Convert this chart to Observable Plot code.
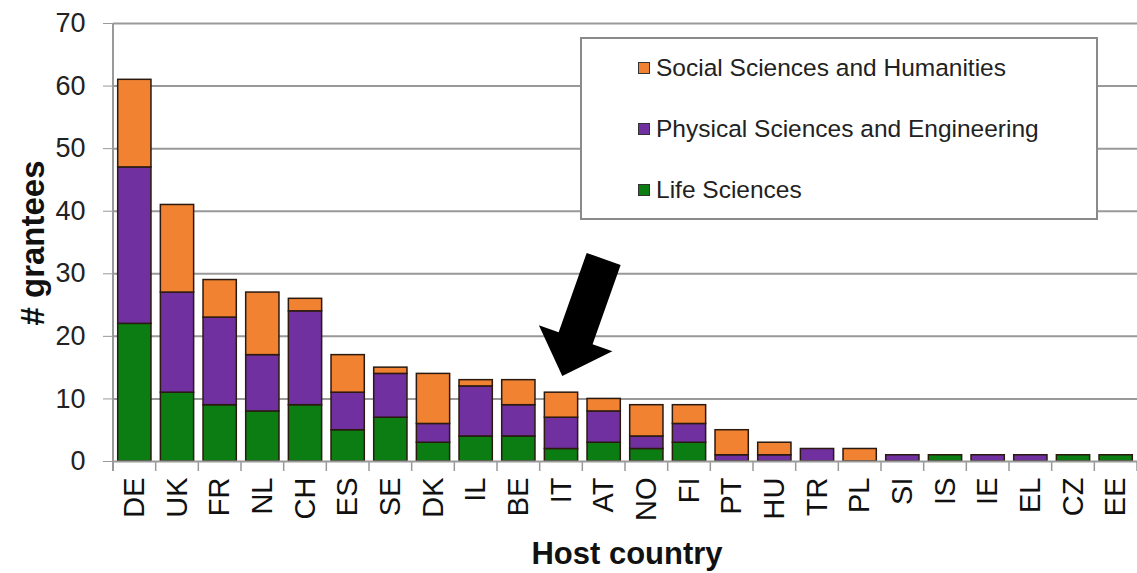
<!DOCTYPE html>
<html>
<head>
<meta charset="utf-8">
<script src="https://cdn.jsdelivr.net/npm/d3@7"></script>
<script src="https://cdn.jsdelivr.net/npm/@observablehq/plot@0.6"></script>
<style>
  html, body { margin: 0; padding: 0; background: #fff; }
  #wrap { position: relative; width: 1137px; height: 573px; font-family: "Liberation Sans", Arial, sans-serif; }
  #legend { position: absolute; left: 580px; top: 37px; width: 518px; height: 183px; box-sizing: border-box;
    border: 2px solid #8a8a8a; background: #fff; }
  .row { position: absolute; left: 56px; display: flex; align-items: center; font-size: 24.5px; color: #222; }
  .sw { width: 12px; height: 12px; border: 1.5px solid #333; margin-right: 6px; box-sizing: border-box; }
</style>
</head>
<body>
<div id="wrap"></div>
<script>
const countries = ["DE","UK","FR","NL","CH","ES","SE","DK","IL","BE","IT","AT","NO","FI","PT","HU","TR","PL","SI","IS","IE","EL","CZ","EE"];
const lifeSciences     = [22,11, 9, 8, 9, 5, 7, 3, 4, 4, 2, 3, 2, 3, 0, 0, 0, 0, 0, 1, 0, 0, 1, 1];
const physicalSciences = [25,16,14, 9,15, 6, 7, 3, 8, 5, 5, 5, 2, 3, 1, 1, 2, 0, 1, 0, 1, 1, 0, 0];
const socialSciences   = [14,14, 6,10, 2, 6, 1, 8, 1, 4, 4, 2, 5, 3, 4, 2, 0, 2, 0, 0, 0, 0, 0, 0];
const domains = ["Life Sciences", "Physical Sciences and Engineering", "Social Sciences and Humanities"];
const colors = ["#0b7d12", "#7030a0", "#f08231"];
const yTicks = [0,10,20,30,40,50,60,70];
const legendOrder = ["Social Sciences and Humanities", "Physical Sciences and Engineering", "Life Sciences"];
// arrow annotation (pointing at IT)
const arrowTail = {country: "AT", shift: 0, value: 32.3};
const arrowTip = {country: "IT", shift: 0.03, value: 13.6};

const series = [lifeSciences, physicalSciences, socialSciences];
const rows = [];
countries.forEach((c, i) => domains.forEach((d, j) => {
  if (series[j][i] > 0) rows.push({country: c, domain: d, value: series[j][i]});
}));

const W = 1137, H = 573, ML = 113, MT = 23, MB = 112;
const PAD = 0.22;

function extras(index, scales, values, dim) {
  const sx = scales.x, sy = scales.y;
  const bw = typeof sx.bandwidth === "function" ? sx.bandwidth() : sx.bandwidth;
  const step = bw / (1 - PAD);
  const g = d3.create("svg:g");
  const y0 = sy(0);
  // category boundary ticks
  countries.forEach(c => {
    const xb = sx(c) + bw / 2 - step / 2;
    g.append("line").attr("x1", xb).attr("x2", xb).attr("y1", y0).attr("y2", y0 + 10)
      .attr("stroke", "#999").attr("stroke-width", 1.5);
  });
  const xe = sx(countries[countries.length - 1]) + bw / 2 + step / 2;
  g.append("line").attr("x1", xe).attr("x2", xe).attr("y1", y0).attr("y2", y0 + 10)
    .attr("stroke", "#999").attr("stroke-width", 1.5);
  // arrow
  const tx = sx(arrowTip.country) + bw / 2 + arrowTip.shift * step, ty = sy(arrowTip.value);
  const fx = sx(arrowTail.country) + bw / 2 + arrowTail.shift * step, fy = sy(arrowTail.value);
  const dx = tx - fx, dy = ty - fy, L = Math.hypot(dx, dy);
  const ux = dx / L, uy = dy / L, px = -uy, py = ux;
  const headLen = 40, headHalf = 39, shaftHalf = 18;
  const bx = tx - ux * headLen, by = ty - uy * headLen;
  const pts = [
    [fx + px * shaftHalf, fy + py * shaftHalf],
    [bx + px * shaftHalf, by + py * shaftHalf],
    [bx + px * headHalf, by + py * headHalf],
    [tx, ty],
    [bx - px * headHalf, by - py * headHalf],
    [bx - px * shaftHalf, by - py * shaftHalf],
    [fx - px * shaftHalf, fy - py * shaftHalf]
  ];
  g.append("polygon").attr("points", pts.map(p => p.join(",")).join(" ")).attr("fill", "#000");
  return g.node();
}

const chart = Plot.plot({
  width: W, height: H,
  marginLeft: ML, marginRight: 0, marginTop: MT, marginBottom: MB,
  style: {fontFamily: "'Liberation Sans', Arial, sans-serif", background: "#fff", overflow: "visible"},
  x: {domain: countries, paddingInner: PAD, paddingOuter: PAD / 2, round: false, label: null},
  y: {domain: [0, 70], label: null},
  color: {domain: domains, range: colors},
  marks: [
    Plot.ruleY(yTicks.slice(1), {stroke: "#999", strokeWidth: 2, strokeOpacity: 1}),
    Plot.barY(rows, {x: "country", y: "value", fill: "domain", order: domains, stroke: "#2a1a10", strokeWidth: 1.5}),
    Plot.ruleY([0], {stroke: "#999", strokeWidth: 2}),
    Plot.axisY({ticks: yTicks, tickSize: 10, tickPadding: 18, fontSize: 27, stroke: "#999", color: "#222", label: null}),
    Plot.axisX({tickSize: 0, tickRotate: -90, tickPadding: 16, fontSize: 29, color: "#111", label: null}),
    extras
  ]
});

// y axis line and axis titles
const svg = d3.select(chart);
svg.append("line").attr("x1", ML).attr("x2", ML).attr("y1", MT).attr("y2", H - MB + 10)
  .attr("stroke", "#999").attr("stroke-width", 2);
svg.append("text").attr("transform", `translate(32,243) rotate(-90)`)
  .attr("text-anchor", "middle").attr("dominant-baseline", "central")
  .attr("font-size", 33).attr("font-weight", "bold").attr("fill", "#111")
  .style("font-family", "'Liberation Sans', Arial, sans-serif").text("# grantees");
svg.append("text").attr("x", ML + (W - ML) / 2 + 2).attr("y", 564)
  .attr("text-anchor", "middle")
  .attr("font-size", 31).attr("font-weight", "bold").attr("fill", "#111")
  .style("font-family", "'Liberation Sans', Arial, sans-serif").text("Host country");

const wrap = document.getElementById("wrap");
wrap.appendChild(chart);
const legend = document.createElement("div");
legend.id = "legend";
legendOrder.forEach((d, i) => {
  const r = document.createElement("div");
  r.className = "row";
  r.style.top = (15 + i * 61) + "px";
  const sw = document.createElement("span");
  sw.className = "sw";
  sw.style.background = colors[domains.indexOf(d)];
  const t = document.createElement("span");
  t.textContent = d;
  r.appendChild(sw); r.appendChild(t);
  legend.appendChild(r);
});
wrap.appendChild(legend);
</script>
</body>
</html>
